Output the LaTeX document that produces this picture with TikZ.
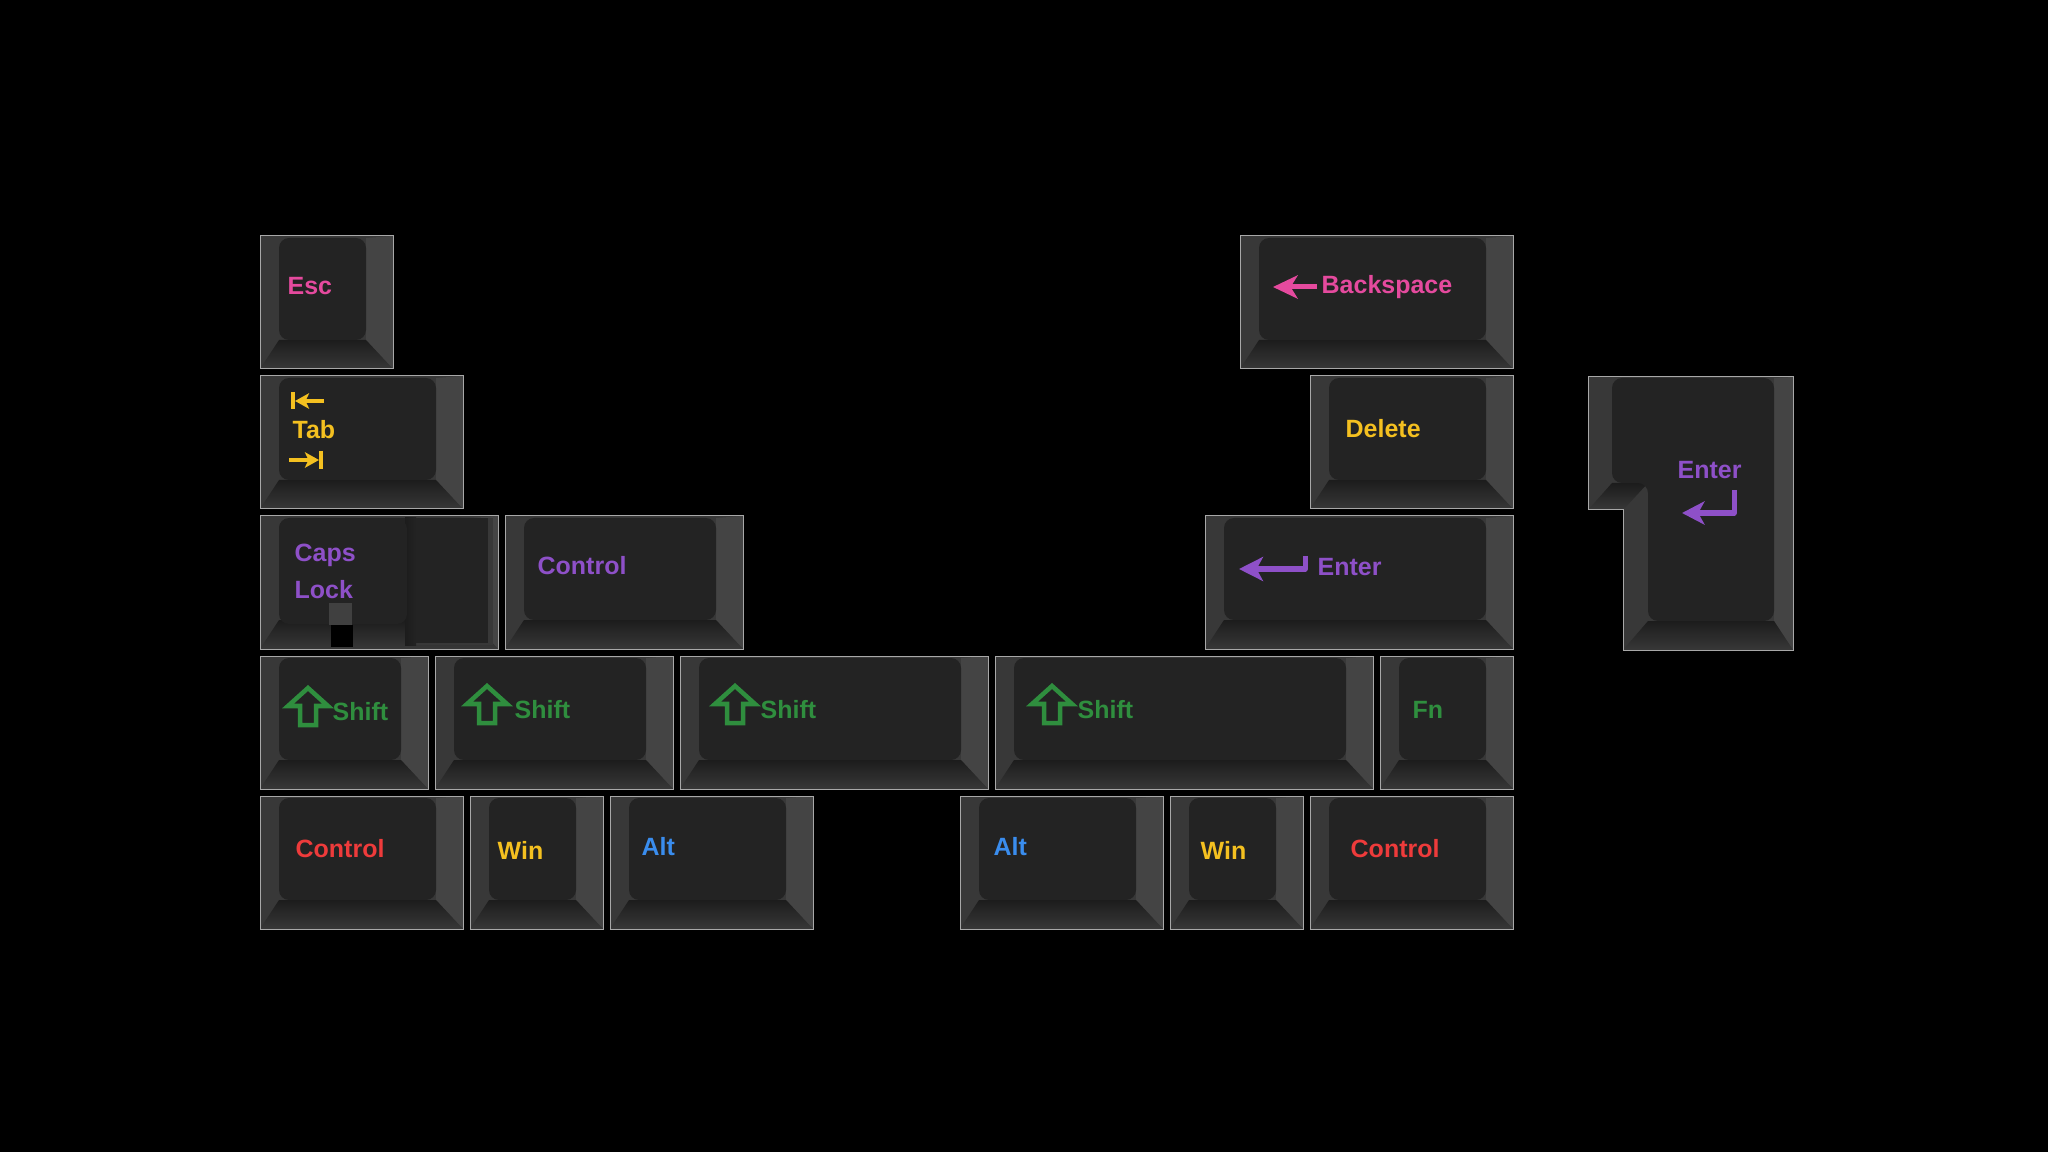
\documentclass[tikz,border=0pt]{standalone}
\usepackage{fontspec}
\setmainfont{Liberation Sans}
\usetikzlibrary{arrows.meta}
\definecolor{capface}{HTML}{232323}
\definecolor{capside}{HTML}{383838}
\definecolor{capright}{HTML}{444444}
\definecolor{capshadow}{HTML}{1C1C1C}
\definecolor{capedge}{HTML}{A8A8A8}
\definecolor{legPink}{HTML}{E54A9E}
\definecolor{legYellow}{HTML}{F4C020}
\definecolor{legPurple}{HTML}{8E50C8}
\definecolor{legGreen}{HTML}{2F8E3E}
\definecolor{legRed}{HTML}{EE3B3B}
\definecolor{legBlue}{HTML}{3A8DEE}

\begin{document}
\begin{tikzpicture}[x=0.01cm,y=-0.01cm,
    legend/.style={font=\fontsize{7.1pt}{8pt}\selectfont\bfseries,inner sep=0pt,anchor=base west},
    glyph/.style={line width=0.05cm,line join=round},
    tabglyph/.style={legYellow,line width=0.04cm},
    topface/.style={fill=capface,rounded corners=0.1cm},
    bevel/.style={top color=capshadow,bottom color=capside},
    shiftglyph/.pic={\draw[legGreen,line width=0.045cm] (22,2)--(42,20)--(30,20)--(30,39)--(14,39)--(14,20)--(2,20)--cycle;}]
    \fill[black](0,0)rectangle(2048,1152);
    \useasboundingbox(0,0)rectangle(2048,1152);
    % keycaps: column/row/width in key units
    \foreach \kx/\kr/\kw in {0/0/1,7/0/2,0/1/1.5,7.5/1/1.5,0/2/1.75,1.75/2/1.75,6.75/2/2.25,0/3/1.25,1.25/3/1.75,3/3/2.25,5.25/3/2.75,8/3/1,0/4/1.5,1.5/4/1,2.5/4/1.5,5/4/1.5,6.5/4/1,7.5/4/1.5}{
        \pgfmathsetmacro\xa{260+140*\kx}
        \pgfmathsetmacro\xb{\xa+140*\kw-7}
        \pgfmathsetmacro\ya{236+140*\kr}
        \pgfmathsetmacro\yb{\ya+133}
        \fill[capside](\xa,\ya)rectangle(\xb,\yb);
        \fill[capright](\xb,\ya)--(\xb,\yb)--(\xb-27,\yb-29)--(\xb-27,\ya+2)--cycle;
        \shade[bevel](\xa,\yb)--(\xb,\yb)--(\xb-27,\yb-29)--(\xa+19,\yb-29)--cycle;
        \draw[capedge,line width=0.01cm](\xa,\ya)rectangle(\xb,\yb);
        \fill[topface](\xa+19,\ya+2)rectangle(\xb-27,\yb-29);
    }
    % stepped caps lock
    \fill[capside](405,518)rectangle(493,645);
    \shade[left color=capshadow,right color=capface](405,518)rectangle(416,645);
    \fill[capface](416,518)rectangle(488,643);
    \fill[topface](279,519)rectangle(407,624);
    \fill[gray!50!black](329,603)rectangle(352,625);
    \fill[black](331,625)rectangle(353,647);
    % iso enter
    \fill[capside](1588,377)--(1793,377)--(1793,650)--(1623,650)--(1623,510)--(1588,510)--cycle;
    \fill[capright](1793,377)--(1793,650)--(1774,621)--(1774,378)--cycle;
    \shade[bevel](1623,650)--(1793,650)--(1774,621)--(1648,621)--cycle;
    \shade[bevel](1588,510)--(1623,510)--(1648,483)--(1612,483)--cycle;
    \draw[capedge,line width=0.01cm](1588,377)--(1793,377)--(1793,650)--(1623,650)--(1623,510)--(1588,510)--cycle;
    \fill[topface](1612,378)--(1774,378)--(1774,621)--(1648,621)--(1648,483)--(1612,483)--cycle;

    % legends
    \node[legend,legPink](esc)at(287,295){Esc};
    \node[legend,legPink](bksp)at(1321,294){Backspace};
    \coordinate(bkspTail)at(1317,287);
    \coordinate(bkspTip)at(1273,287);
    \draw[glyph,legPink,-{Stealth[length=7pt,width=6.6pt,inset=2pt]}](bkspTail)--(bkspTip);
    \node[legend,legYellow](tab)at(292,439){Tab};
    \draw[tabglyph](293,392)--(293,409);
    \draw[tabglyph,-{Stealth[length=4pt,width=4.4pt,inset=1pt]}](324,401)--(295,401);
    \draw[tabglyph](321,451)--(321,469);
    \draw[tabglyph,-{Stealth[length=4pt,width=4.4pt,inset=1pt]}](289,460)--(319,460);
    \node[legend,legYellow](del)at(1345,438){Delete};
    \node[legend,legPurple](caps)at(294,561){Caps};
    \node[legend,legPurple](lock)at(294,598){Lock};
    \node[legend,legPurple](ctrlP)at(537,574){Control};
    \node[legend,legPurple](enterA)at(1317,576){Enter};
    \draw[glyph,legPurple,-{Stealth[length=6.8pt,width=6.8pt,inset=1.8pt]}](1305,556)--(1305,569)--(1239,569);
    \node[legend,legPurple](enterB)at(1677,479){Enter};
    \draw[glyph,legPurple,-{Stealth[length=6.4pt,width=6.6pt,inset=1.8pt]}](1734,490)--(1734,513)--(1682,513);
    \pic(shiftA)at(286,686){shiftglyph};
    \node[legend,legGreen](shA)at(332,720){Shift};
    \pic(shiftB)at(465,684){shiftglyph};
    \node[legend,legGreen](shB)at(514,718){Shift};
    \pic(shiftC)at(713,684){shiftglyph};
    \node[legend,legGreen](shC)at(760,718){Shift};
    \pic(shiftD)at(1030,684){shiftglyph};
    \node[legend,legGreen](shD)at(1077,718){Shift};
    \node[legend,legGreen](fn)at(1412,718){Fn};
    \node[legend,legRed](ctrlL)at(295,857){Control};
    \node[legend,legYellow](winL)at(497,859){Win};
    \node[legend,legBlue](altL)at(641,855){Alt};
    \node[legend,legBlue](altR)at(993,855){Alt};
    \node[legend,legYellow](winR)at(1200,859){Win};
    \node[legend,legRed](ctrlR)at(1350,857){Control};
\end{tikzpicture}
\end{document}
